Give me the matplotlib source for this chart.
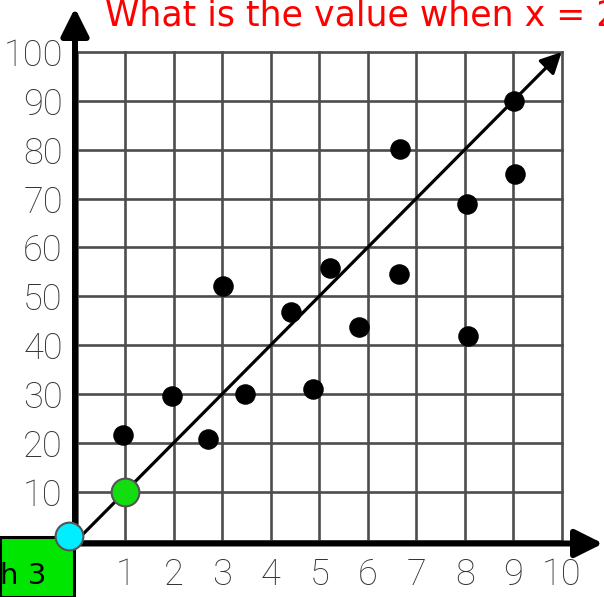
import matplotlib
matplotlib.use("Agg")
import matplotlib.pyplot as plt
from matplotlib import font_manager
from matplotlib.lines import Line2D
from matplotlib.patches import Rectangle
from matplotlib.text import Annotation

W, H = 604, 597

# scatter points
xs = [0.96, 1.96, 2.70, 3.02, 3.47, 4.41, 4.87, 5.22, 5.82, 6.66, 6.64, 8.04, 8.07, 9.03, 9.02]
ys = [21.6, 29.5, 20.8, 52.0, 30.0, 46.8, 31.0, 55.8, 43.7, 80.1, 54.6, 68.9, 41.8, 75.0, 90.0]

# trend line y = 10x
line_x = [0, 10]
line_y = [0, 100]

# highlighted points
origin_pt = (-0.15, 1.0)
green_pt = (1.0, 10.0)

x_ticks = list(range(0, 11))
y_ticks = list(range(0, 101, 10))
x_labels = ["", "1", "2", "3", "4", "5", "6", "7", "8", "9", "10"]
y_labels = ["", "10", "20", "30", "40", "50", "60", "70", "80", "90", "100"]

title = "What is the value when x = 2?"
corner_text = "h 3"


def pick_font(names):
    have = {f.name for f in font_manager.fontManager.ttflist}
    for n in names:
        if n in have:
            return n
    return "DejaVu Sans"


tick_font = pick_font(["Liberation Sans Narrow", "Roboto", "Lato", "Liberation Sans"])
tick_style = dict(fontsize=26, family=tick_font, fontweight="light", color="#333333")

fig = plt.figure(figsize=(W / 100, H / 100), dpi=100)
ax = fig.add_axes([76.7 / W, (H - 540.5) / H, 485 / W, 488.5 / H])
ax.set_xlim(0, 10)
ax.set_ylim(0, 100)
for s in ax.spines.values():
    s.set_visible(False)

ax.set_xticks(x_ticks)
ax.set_yticks(y_ticks)
ax.set_xticklabels(x_labels, **tick_style)
ax.set_yticklabels(y_labels, **tick_style)
ax.tick_params(length=0)
ax.tick_params(axis="x", pad=12)
ax.tick_params(axis="y", pad=10)

ax.grid(True, color="#4d4d4d", lw=1.9)
for gl in ax.get_xgridlines() + ax.get_ygridlines():
    gl.set_clip_on(False)
ax.set_axisbelow(True)

# trend line with arrow head
ax.annotate("", xy=(line_x[1], line_y[1]), xytext=(line_x[0], line_y[0]),
            arrowprops=dict(arrowstyle="-|>", lw=2.3, color="black",
                            mutation_scale=32, shrinkA=0, shrinkB=0),
            annotation_clip=False, zorder=3)

ax.scatter(xs, ys, s=190, color="black", zorder=4, clip_on=False)

# axes drawn as thick arrows (figure pixel coords)
ax_kw = dict(arrowstyle="-|>", lw=4.3, color="black", mutation_scale=42,
             shrinkA=0, shrinkB=0)
fig.add_artist(Annotation(
    "", xy=(603, H - 543.5), xytext=(72, H - 543.5),
    xycoords="figure pixels", textcoords="figure pixels",
    arrowprops=ax_kw, annotation_clip=False))
fig.add_artist(Annotation(
    "", xy=(75, H - 8), xytext=(75, H - 546),
    xycoords="figure pixels", textcoords="figure pixels",
    arrowprops=ax_kw, annotation_clip=False))

# green tab in the corner
tab = Rectangle((0, 0), 74 / W, (H - 537) / H, transform=fig.transFigure,
                facecolor="#00e600", edgecolor="black", lw=2.2, zorder=5)
fig.add_artist(tab)
fig.text(0, (H - 576) / H, corner_text, fontsize=21, color="black",
         va="center", ha="left", zorder=6)

# marked points sit on top of the tab and the axes
for (px, py), face in [(origin_pt, "#00eeff"), (green_pt, "#11dd11")]:
    fig.add_artist(Line2D([px], [py], marker="o", ms=20, mfc=face, mec="#555555",
                          mew=1.5, ls="none", transform=ax.transData, zorder=8))

fig.text(105 / W, (H - 25) / H, title, fontsize=25, color="#ff0000",
         va="baseline", ha="left")

fig.savefig("out.png", dpi=100)
